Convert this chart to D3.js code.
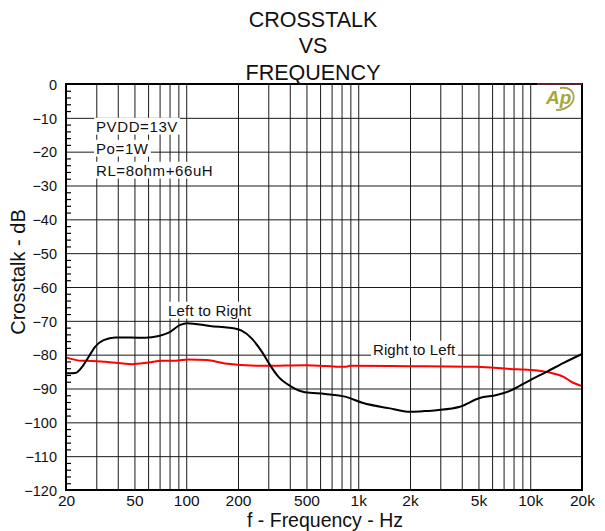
<!DOCTYPE html>
<html><head><meta charset="utf-8">
<script src="https://cdn.jsdelivr.net/npm/d3@7"></script>
<style>
html,body{margin:0;padding:0;background:#fff;}
svg{display:block;font-family:"Liberation Sans",Arial,sans-serif;}
</style></head>
<body><svg id="c" width="605" height="531"></svg>
<script>
// ---- data ----
const titleLines = ["CROSSTALK", "VS", "FREQUENCY"];
const xTickValues = [20, 50, 100, 200, 500, 1000, 2000, 5000, 10000, 20000];
const xTickLabels = ["20", "50", "100", "200", "500", "1k", "2k", "5k", "10k", "20k"];
const yTickValues = [0, -10, -20, -30, -40, -50, -60, -70, -80, -90, -100, -110, -120];
const conditions = ["PVDD=13V", "Po=1W", "RL=8ohm+66uH"];
const seriesNames = ["Left to Right", "Right to Left"];

const leftToRightFreq = [20, 22.7, 24.8, 27.1, 29.6, 33.1, 38.7, 57.6, 69.2, 79.1, 92.4, 101, 137, 197, 210, 240, 275, 307, 343, 410, 490, 641, 838, 1068, 1500, 2000, 2374, 2858, 3900, 5080, 6380, 7620, 10000, 12520, 15540, 20000];
const leftToRightDb   = [-85.5, -85.4, -83.6, -80.6, -77.6, -75.7, -74.9, -75.0, -74.5, -73.5, -71.2, -70.7, -71.5, -72.4, -72.9, -75.2, -79.1, -83.1, -86.5, -89.5, -91.1, -91.6, -92.4, -94.3, -95.8, -96.9, -96.7, -96.4, -95.4, -92.8, -91.9, -90.7, -87.5, -85.0, -82.5, -79.8];

const rightToLeftFreq = [20, 24.8, 26.4, 33.8, 48.4, 60.5, 72.3, 86.4, 103, 132, 168, 287, 490, 838, 896, 2000, 4880, 7620, 10000, 13000, 15540, 17760, 20000];
const rightToLeftDb   = [-80.8, -81.8, -81.8, -82.1, -82.8, -82.3, -81.8, -81.8, -81.4, -81.6, -82.6, -83.3, -83.1, -83.6, -83.3, -83.4, -83.6, -84.2, -84.5, -85.3, -86.5, -88.3, -89.3];

// ---- layout ----
const svg = d3.select("#c");
const L = 66, R = 582, T = 84, B = 490;
const x = d3.scaleLog().domain([20, 20000]).range([L, R]);
const y = d3.scaleLinear().domain([-120, 0]).range([B, T]);

// grid lines
const gridF = [];
[10, 100, 1000, 10000].forEach(d => { for (let k = 1; k <= 9; k++) { const f = d * k; if (f >= 20 && f <= 20000) gridF.push(f); } });
svg.append("g").attr("transform", `translate(0,${B})`)
  .call(d3.axisBottom(x).tickValues(gridF).tickSize(-(B - T)).tickFormat(""))
  .call(g => { g.select(".domain").remove(); g.selectAll("line").attr("stroke", "#1a1a1a").attr("stroke-width", 1); });
svg.append("g").attr("transform", `translate(${L},0)`)
  .call(d3.axisLeft(y).tickValues(yTickValues).tickSize(-(R - L)).tickFormat(""))
  .call(g => { g.select(".domain").remove(); g.selectAll("line").attr("stroke", "#1a1a1a").attr("stroke-width", 1); });
// minor ticks on left
const minor = d3.range(-118, 0, 2).filter(v => v % 10 !== 0);
svg.append("g").attr("transform", `translate(${L},0)`)
  .call(d3.axisRight(y).tickValues(minor).tickSize(5).tickFormat(""))
  .call(g => { g.select(".domain").remove(); g.selectAll("line").attr("stroke", "#000").attr("stroke-width", 1.2); });

// text with white background
function boxedText(tx, ty, str, size, spacing) {
  const g = svg.append("g");
  const rect = g.append("rect").attr("fill", "#fff");
  const t = g.append("text").attr("x", tx).attr("y", ty).attr("font-size", size)
    .attr("letter-spacing", spacing || 0).attr("fill", "#111").text(str);
  const bb = t.node().getBBox();
  rect.attr("x", bb.x - 2).attr("y", ty - size * 0.95).attr("width", bb.width + 4).attr("height", size * 1.12);
}
const condY = [132, 154, 176];
conditions.forEach((s, i) => boxedText(96, condY[i], s, 15, 0.6));
boxedText(168, 316, seriesNames[0], 15, 0.2);
boxedText(373, 355, seriesNames[1], 15, 0.1);

// curves
const line = d3.line().x(d => x(d[0])).y(d => y(d[1])).curve(d3.curveMonotoneX);
svg.append("path").datum(rightToLeftFreq.map((f, i) => [f, rightToLeftDb[i]]))
  .attr("d", line).attr("fill", "none").attr("stroke", "#ff0000").attr("stroke-width", 2);
svg.append("path").datum(leftToRightFreq.map((f, i) => [f, leftToRightDb[i]]))
  .attr("d", line).attr("fill", "none").attr("stroke", "#000").attr("stroke-width", 2);

// frame
svg.append("rect").attr("x", L).attr("y", T).attr("width", R - L).attr("height", B - T)
  .attr("fill", "none").attr("stroke", "#000").attr("stroke-width", 2);
svg.append("line").attr("x1", 537).attr("x2", R).attr("y1", T).attr("y2", T)
  .attr("stroke", "#5a2035").attr("stroke-width", 2);

// axes labels
svg.append("g").attr("transform", `translate(${L - 9},0)`)
  .call(d3.axisLeft(y).tickValues(yTickValues).tickSize(0).tickFormat(d => d3.format("d")(d)))
  .call(g => { g.select(".domain").remove(); g.selectAll("text").attr("font-size", 14.5).attr("fill", "#111")
    .attr("font-family", "Liberation Sans, Arial, sans-serif").attr("x", 0).attr("dy", "0.36em"); });
svg.append("g").attr("transform", `translate(0,${B})`)
  .call(d3.axisBottom(x).tickValues(xTickValues).tickSize(0).tickFormat((d, i) => xTickLabels[i]))
  .call(g => { g.select(".domain").remove(); g.selectAll("text").attr("font-size", 15.5).attr("fill", "#111")
    .attr("font-family", "Liberation Sans, Arial, sans-serif").attr("y", 5).attr("dy", "0.71em"); });

// titles
titleLines.forEach((s, i) => svg.append("text").attr("x", 313).attr("y", [27, 53, 80][i])
  .attr("text-anchor", "middle").attr("font-size", 21.5).attr("fill", "#111").text(s));
svg.append("text").attr("x", 325).attr("y", 527).attr("text-anchor", "middle")
  .attr("font-size", 19.5).attr("fill", "#111").text("f - Frequency - Hz");
svg.append("text").attr("transform", "translate(25,272) rotate(-90)").attr("text-anchor", "middle")
  .attr("font-size", 20).attr("fill", "#111").text("Crosstalk - dB");

// AP logo
const logo = svg.append("g").attr("transform", "translate(546,104)");
logo.append("text").attr("x", 0).attr("y", 0).attr("font-size", 19).attr("font-weight", "bold")
  .attr("font-style", "italic").attr("fill", "#a8a63c").text("Ap");
logo.append("path").attr("d", "M14,-16 C28,-18 31,-6 24,1 C20,5 14,6 10,6")
  .attr("fill", "none").attr("stroke", "#a8a63c").attr("stroke-width", 1.8);
</script></body></html>
